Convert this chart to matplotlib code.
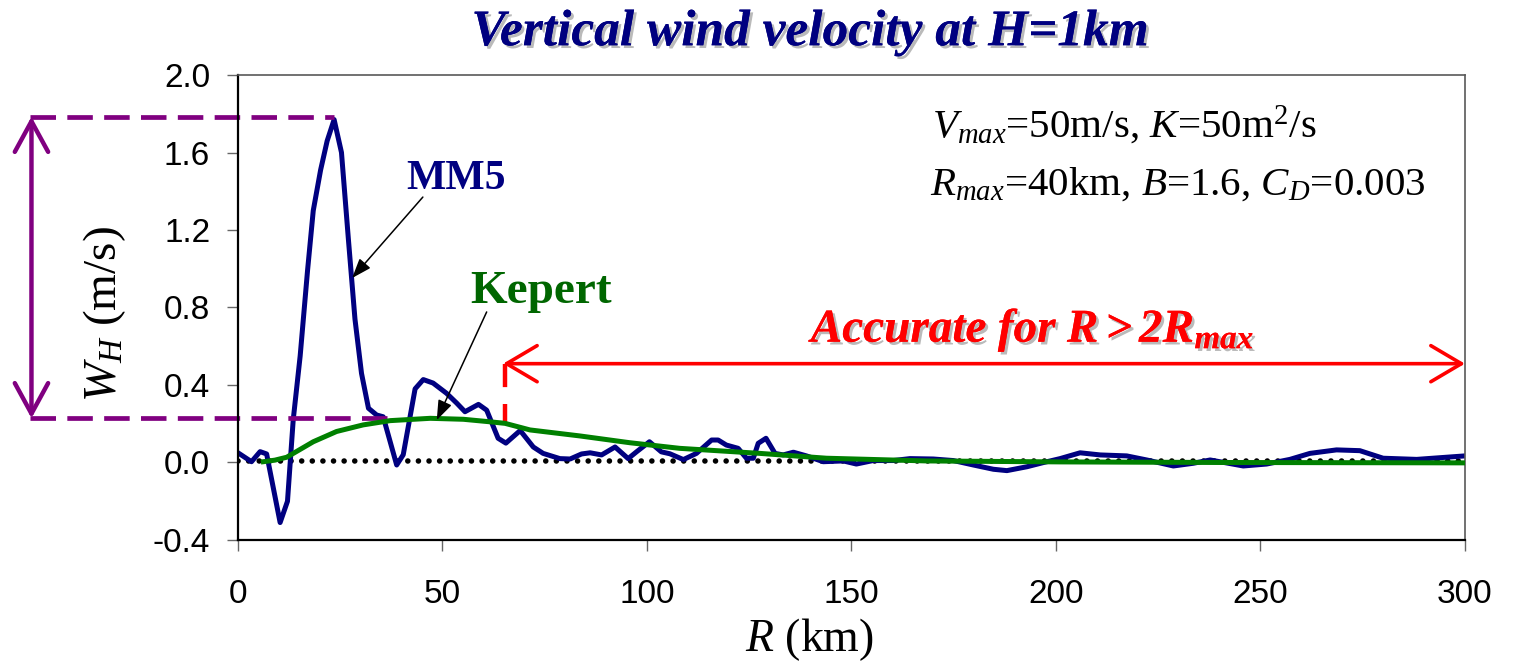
import numpy as np
import matplotlib
matplotlib.use("Agg")
from matplotlib import pyplot as plt
import matplotlib.patheffects as pe

# data
mm5_r = [0, 3.3, 5.4, 7.0, 10.3, 12.1, 13.5, 15.2, 17.0, 18.4, 20.2, 21.8, 23.5,
         25.3, 27.0, 28.6, 30.2, 31.9, 33.9, 35.5, 38.8, 40.4, 43.3, 45.3, 47.7,
         51.0, 53.5, 55.5, 58.8, 60.8, 63.6, 65.5, 69.0, 72.2, 74.6, 78.7, 81.2,
         84.0, 86.1, 88.9, 92.2, 95.4, 97.5, 100.6, 103.5, 105.6, 108.9, 112.1,
         115.8, 117.4, 119.4, 122.3, 124.3, 126.0, 127.2, 129.1, 131.3, 133.3,
         135.8, 139.0, 143.1, 148.0, 151.2, 155.3, 160.2, 164.3, 170.0, 174.9,
         179.8, 184.7, 188.0, 192.9, 197.0, 201.0, 205.9, 210.8, 217.3, 222.2,
         228.7, 233.6, 237.7, 245.8, 251.5, 257.2, 262.1, 268.6, 274.3, 280.0,
         288.2, 300.0]
mm5_w = [0.05, 0.004, 0.056, 0.044, -0.31, -0.20, 0.22, 0.55, 0.99, 1.30, 1.51,
         1.66, 1.77, 1.60, 1.15, 0.74, 0.46, 0.28, 0.245, 0.236, -0.013, 0.04,
         0.38, 0.428, 0.41, 0.357, 0.306, 0.262, 0.30, 0.27, 0.125, 0.10, 0.165,
         0.08, 0.047, 0.02, 0.018, 0.044, 0.05, 0.039, 0.08, 0.02, 0.056, 0.107,
         0.055, 0.045, 0.015, 0.047, 0.116, 0.116, 0.09, 0.073, 0.022, 0.022,
         0.099, 0.125, 0.047, 0.039, 0.053, 0.034, 0.004, 0.008, -0.008, 0.01,
         0.01, 0.02, 0.018, 0.01, -0.013, -0.035, -0.042, -0.022, 0.0, 0.02,
         0.05, 0.039, 0.034, 0.013, -0.018, -0.004, 0.013, -0.018, -0.008,
         0.016, 0.047, 0.065, 0.061, 0.022, 0.016, 0.034]

kepert_r = [6.2, 9.0, 11.9, 18.4, 24.1, 30.6, 37.2, 47.0, 55.1, 61.6, 65.3, 71.4,
            83.6, 95.8, 108.0, 127.6, 143.9, 168.4, 201.0, 240.0, 300.0]
kepert_w = [0.004, 0.012, 0.027, 0.107, 0.16, 0.194, 0.216, 0.228, 0.223, 0.21,
            0.202, 0.168, 0.137, 0.102, 0.073, 0.047, 0.022, 0.008, 0.003, 0.0,
            -0.002]

x_ticks = [0, 50, 100, 150, 200, 250, 300]
y_ticks = [-0.4, 0.0, 0.4, 0.8, 1.2, 1.6, 2.0]

serif = "Liberation Serif"
sans = "Liberation Sans"
plt.rcParams['mathtext.fontset'] = 'custom'
plt.rcParams['mathtext.rm'] = serif
plt.rcParams['mathtext.it'] = serif + ':italic'
plt.rcParams['mathtext.bf'] = serif + ':bold:italic'

navy = '#000080'
green = '#008000'
purple = '#800080'
red = '#ff0000'

fig = plt.figure(figsize=(15.14, 6.65), dpi=100)
ax = fig.add_axes([0.1572, 0.188, 0.8104, 0.6992])

ax.axhline(0.01, color='black', lw=4, linestyle=(0, (0.01, 1.9)),
           dash_capstyle='round', zorder=1)
ax.plot(kepert_r, kepert_w, color=green, lw=3.6, zorder=3)
ax.plot(mm5_r, mm5_w, color=navy, lw=3.6, zorder=2)

ax.set_xlim(0, 300)
ax.set_ylim(-0.4, 2.0)
ax.set_xticks(x_ticks)
ax.set_yticks(y_ticks)
ax.set_yticklabels(['%.1f' % v for v in y_ticks])
ax.tick_params(axis='x', direction='out', length=8, width=1, color='0.4',
               pad=20, labelsize=24)
ax.tick_params(axis='y', direction='out', length=8, width=1, color='0.4',
               pad=12, labelsize=24)
for lab in ax.get_xticklabels() + ax.get_yticklabels():
    lab.set_fontfamily(sans)
for s in ['left', 'bottom']:
    ax.spines[s].set_linewidth(1.6)
    ax.spines[s].set_color('black')
for s in ['top', 'right']:
    ax.spines[s].set_linewidth(1.2)
    ax.spines[s].set_color('0.35')

# purple peak-range markers
ax.plot([-50.9, 23.5], [1.785, 1.785], color=purple, lw=3.4,
        linestyle=(0, (5.4, 2.4)), clip_on=False)
ax.plot([-50.9, 36.7], [0.228, 0.228], color=purple, lw=3.4,
        linestyle=(0, (5.4, 2.4)), clip_on=False)
ax.annotate('', xy=(-50.5, 1.785), xytext=(-50.5, 0.228), annotation_clip=False,
            arrowprops=dict(arrowstyle='<->,head_length=1.1,head_width=0.6',
                            color=purple, lw=3.2, mutation_scale=20,
                            shrinkA=0, shrinkB=0))

# red accurate range
ax.plot([65.2, 65.2], [0.51, 0.205], color=red, lw=3.2, linestyle=(0, (5.2, 3.8)))
ax.annotate('', xy=(300, 0.51), xytext=(64.8, 0.51), annotation_clip=False,
            arrowprops=dict(arrowstyle='<->,head_length=1.1,head_width=0.65',
                            color=red, lw=2.6, mutation_scale=20,
                            shrinkA=0, shrinkB=0))
shadow = [pe.withSimplePatchShadow(offset=(2, -2), shadow_rgbFace='0.55', alpha=0.6),
          pe.Normal()]
ax.text(194.6, 0.622, r'$\mathbf{Accurate\ for\ R > 2R_{max}}$', color=red,
        fontsize=34, ha='center', va='baseline', path_effects=shadow)

# labels for curves
ax.annotate('', xy=(27.9, 0.952), xytext=(45.2, 1.37),
            arrowprops=dict(arrowstyle='-|>,head_length=0.6,head_width=0.22',
                            color='black', lw=1.1, mutation_scale=20,
                            shrinkA=0, shrinkB=0))
ax.annotate('', xy=(48.6, 0.219), xytext=(60.8, 0.777),
            arrowprops=dict(arrowstyle='-|>,head_length=0.6,head_width=0.22',
                            color='black', lw=1.1, mutation_scale=20,
                            shrinkA=0, shrinkB=0))
ax.text(53.3, 1.463, 'MM5', color=navy, fontsize=30, fontweight='bold',
        fontfamily=serif, ha='center', va='center')
ax.text(74.1, 0.88, 'Kepert', color='#006600', fontsize=34, fontweight='bold',
        fontfamily=serif, ha='center', va='center')

ax.text(169.7, 1.68, r'$V_{max}$=50m/s, $K$=50m$^2$/s', fontsize=29.5,
        fontfamily=serif, ha='left', va='baseline')
ax.text(169.2, 1.38, r'$R_{max}$=40km, $B$=1.6, $C_D$=0.003', fontsize=29.5,
        fontfamily=serif, ha='left', va='baseline')

fig.text(0.535, 0.950, 'Vertical wind velocity at H=1km', color=navy,
         fontsize=37, fontweight='bold', fontstyle='italic', fontfamily=serif,
         ha='center', va='center', path_effects=shadow)
fig.text(105 / 1514, 1 - 314 / 665, r'$W_H$ (m/s)', fontsize=34, fontfamily=serif,
         rotation=90, ha='center', va='center')
fig.text(809 / 1514, 1 - 640 / 665, r'$R$ (km)', fontsize=33, fontfamily=serif,
         ha='center', va='center')

fig.savefig('out.png', dpi=100)
